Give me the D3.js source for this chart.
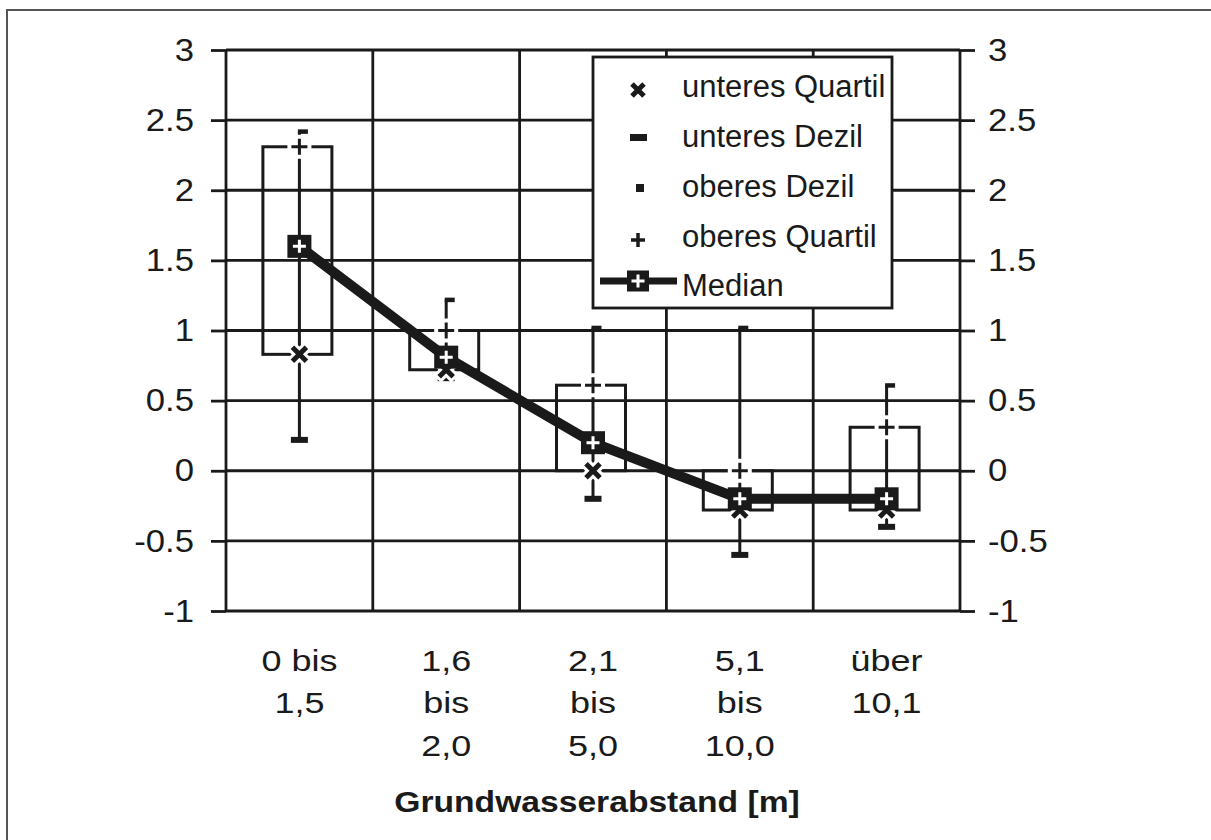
<!DOCTYPE html>
<html>
<head>
<meta charset="utf-8">
<script src="https://d3js.org/d3.v7.min.js"></script>
<style>
    body { margin: 0; background: #fff; }
    text { font-family: "Liberation Sans", Arial, sans-serif; fill: #1a1a1a; }
</style>
</head>
<body>
<svg id="chart" width="1211" height="840"></svg>
<script>
// Grundwasserabstand classes, one entry per label line
const categories = [["0 bis", "1,5"], ["1,6", "bis", "2,0"], ["2,1", "bis", "5,0"], ["5,1", "bis", "10,0"], ["über", "10,1"]]
const yTicks = [-1, -0.5, 0, 0.5, 1, 1.5, 2, 2.5, 3]
const lowerQuartile = [0.83, 0.72, 0.0, -0.28, -0.28]
const lowerDecile = [0.22, 0.66, -0.2, -0.6, -0.4]
const upperDecile = [2.42, 1.22, 1.02, 1.02, 0.61]
const upperQuartile = [2.31, 1.0, 0.61, 0.0, 0.31]
const median = [1.6, 0.81, 0.2, -0.2, -0.2]
const legendLabels = ["unteres Quartil", "unteres Dezil", "oberes Dezil", "oberes Quartil", "Median"]

const ink = "#1a1a1a"
const svg = d3.select("#chart")

// outer frame
svg.append("rect").attr("x", 7).attr("y", 10).attr("width", 1215).attr("height", 850)
    .attr("fill", "none").attr("stroke", "#555").attr("stroke-width", 2)

const x = d3.scaleBand().domain(d3.range(categories.length)).range([226, 960])
const y = d3.scaleLinear().domain([-1, 3]).range([611, 50])
const cx = i => x(i) + x.bandwidth() / 2
const sx = 1.12 // the scan is stretched a little horizontally

// grid
const grid = svg.append("g").attr("stroke", ink).attr("stroke-width", 2.8)
grid.selectAll("line.h").data(yTicks).join("line").attr("class", "h")
    .attr("x1", 226).attr("x2", 960).attr("y1", d => y(d)).attr("y2", d => y(d))
grid.selectAll("line.v").data(d3.range(categories.length + 1)).join("line").attr("class", "v")
    .attr("x1", i => i < categories.length ? x(i) : 960).attr("x2", i => i < categories.length ? x(i) : 960)
    .attr("y1", y(3)).attr("y2", y(-1))

// y axes left and right
function styleAxis(g, pad, anchor) {
    g.select(".domain").remove()
    g.selectAll(".tick line").attr("stroke", ink).attr("stroke-width", 2.8)
    g.selectAll(".tick text")
        .attr("x", pad / sx).attr("dy", "0.33em")
        .attr("transform", `scale(${sx},1)`)
        .attr("text-anchor", anchor)
        .style("font-size", "31px").attr("fill", ink)
}
svg.append("g").attr("transform", "translate(226,0)")
    .call(d3.axisLeft(y).tickValues(yTicks).tickSize(15).tickSizeOuter(0).tickFormat(d => String(d)))
    .call(g => styleAxis(g, -32, "end"))
svg.append("g").attr("transform", "translate(960,0)")
    .call(d3.axisRight(y).tickValues(yTicks).tickSize(15).tickSizeOuter(0).tickFormat(d => String(d)))
    .call(g => styleAxis(g, 28, "start"))

// category labels
const cat = svg.append("g").selectAll("g").data(categories).join("g")
    .attr("transform", (d, i) => `translate(${cx(i)},0) scale(1.2,1)`)
cat.selectAll("text").data(d => d).join("text")
    .attr("x", 0).attr("y", (d, j) => 671 + j * 42.5)
    .attr("text-anchor", "middle").style("font-size", "30px").text(d => d)

// axis title
svg.append("text").attr("transform", `translate(${cx(2) + 4},812) scale(1.16,1)`)
    .attr("text-anchor", "middle").style("font-size", "29px").style("font-weight", "bold")
    .text("Grundwasserabstand [m]")

// boxes between the quartiles
const boxW = 69
svg.append("g").selectAll("rect").data(median).join("rect")
    .attr("x", (d, i) => cx(i) - boxW / 2 - 2)
    .attr("y", (d, i) => y(upperQuartile[i]))
    .attr("width", boxW)
    .attr("height", (d, i) => y(lowerQuartile[i]) - y(upperQuartile[i]))
    .attr("fill", "none").attr("stroke", ink).attr("stroke-width", 3)

// decile whiskers
svg.append("g").selectAll("line").data(median).join("line")
    .attr("x1", (d, i) => cx(i)).attr("x2", (d, i) => cx(i))
    .attr("y1", (d, i) => y(upperDecile[i])).attr("y2", (d, i) => y(lowerDecile[i]))
    .attr("stroke", ink).attr("stroke-width", 3)

// marker shapes
const plusPath = r => `M${-r},0H${r}M0,${-r}V${r}`
const crossPath = r => `M${-r},${-r}L${r},${r}M${-r},${r}L${r},${-r}`

function drawUpperQuartile(g, px, py, r) {
    g.append("path").attr("transform", `translate(${px},${py})`).attr("d", plusPath(r + 4))
        .attr("stroke", "#fff").attr("stroke-width", 8).attr("fill", "none")
    g.append("path").attr("transform", `translate(${px},${py})`).attr("d", plusPath(r))
        .attr("stroke", ink).attr("stroke-width", 3).attr("fill", "none")
}
function drawLowerQuartile(g, px, py, r, w) {
    g.append("path").attr("transform", `translate(${px},${py})`).attr("d", crossPath(r + 2))
        .attr("stroke", "#fff").attr("stroke-width", w + 6).attr("fill", "none")
    g.append("path").attr("transform", `translate(${px},${py})`).attr("d", crossPath(r))
        .attr("stroke", ink).attr("stroke-width", w).attr("fill", "none")
}
function drawMedian(g, px, py, w, h) {
    g.append("rect").attr("x", px - w / 2).attr("y", py - h / 2).attr("width", w).attr("height", h).attr("fill", ink)
    g.append("path").attr("transform", `translate(${px},${py})`).attr("d", plusPath(6.5))
        .attr("stroke", "#fff").attr("stroke-width", 3).attr("fill", "none")
}

const marks = svg.append("g")
// lower decile: bar, upper decile: stub
marks.selectAll("rect.ld").data(lowerDecile).join("rect").attr("class", "ld")
    .attr("x", (d, i) => cx(i) - 8.5).attr("y", d => y(d) - 3).attr("width", 17).attr("height", 6).attr("fill", ink)
marks.selectAll("rect.ud").data(upperDecile).join("rect").attr("class", "ud")
    .attr("x", (d, i) => cx(i) - 1.5).attr("y", d => y(d) - 2).attr("width", 10).attr("height", 4.5).attr("fill", ink)
upperQuartile.forEach((d, i) => drawUpperQuartile(marks, cx(i), y(d), 8))
lowerQuartile.forEach((d, i) => drawLowerQuartile(marks, cx(i), y(d), 7, 5))

// median line with square markers
svg.append("path").datum(median)
    .attr("d", d3.line().x((d, i) => cx(i)).y(d => y(d)))
    .attr("fill", "none").attr("stroke", ink).attr("stroke-width", 10).attr("stroke-linejoin", "miter")
const med = svg.append("g")
median.forEach((d, i) => drawMedian(med, cx(i), y(d), 24, 23))

// legend
const lg = svg.append("g")
lg.append("rect").attr("x", 593).attr("y", 57).attr("width", 299).attr("height", 251)
    .attr("fill", "#fff").attr("stroke", ink).attr("stroke-width", 2.8)
const rowY = [86, 136, 186, 236, 285]
lg.selectAll("text").data(legendLabels).join("text")
    .attr("x", 682).attr("y", (d, i) => rowY[i]).attr("dy", "0.35em")
    .style("font-size", "31px").text(d => d)
drawLowerQuartile(lg, 638, rowY[0] + 4, 6, 5)
lg.append("rect").attr("x", 630).attr("y", rowY[1] - 2).attr("width", 17).attr("height", 7).attr("fill", ink)
lg.append("rect").attr("x", 636).attr("y", rowY[2] - 2).attr("width", 8).attr("height", 8).attr("fill", ink)
lg.append("path").attr("transform", `translate(638,${rowY[3] + 4})`).attr("d", plusPath(7))
    .attr("stroke", ink).attr("stroke-width", 3.5)
lg.append("line").attr("x1", 600).attr("x2", 677).attr("y1", rowY[4] - 4).attr("y2", rowY[4] - 4)
    .attr("stroke", ink).attr("stroke-width", 7)
drawMedian(lg, 638, rowY[4] - 4, 22, 21)
</script>
</body>
</html>
